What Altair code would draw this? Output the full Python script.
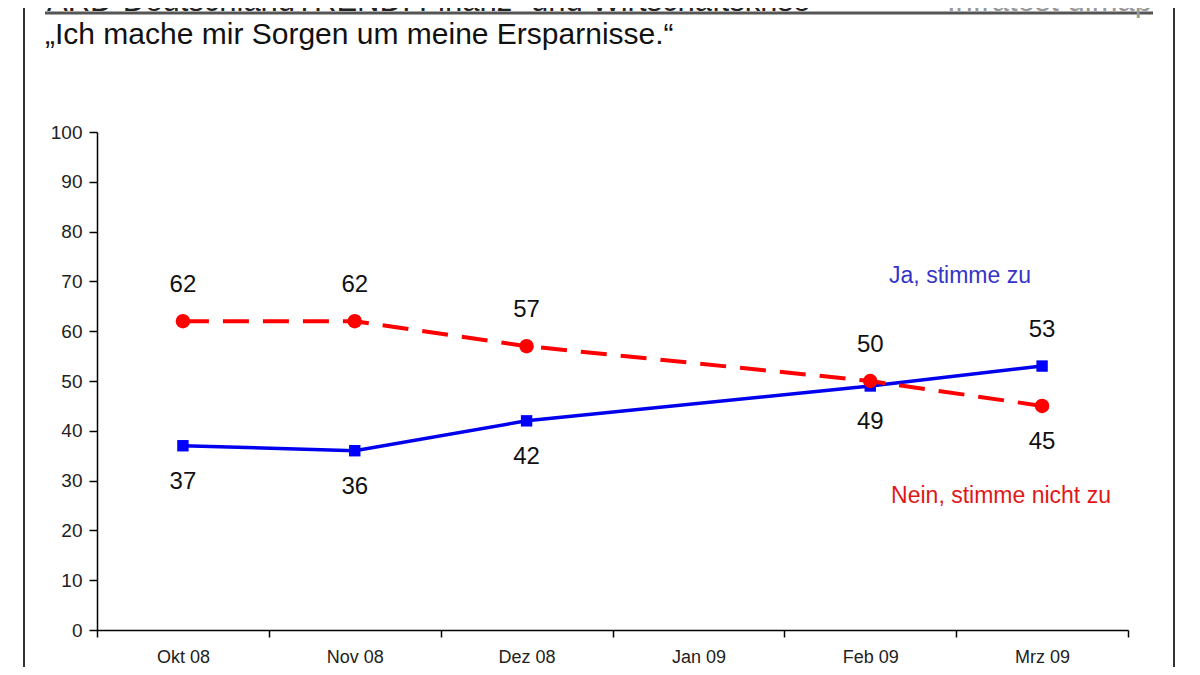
import altair as alt
import pandas as pd

# ---- data ----
months = ["Okt 08", "Nov 08", "Dez 08", "Jan 09", "Feb 09", "Mrz 09"]
survey_months = ["Okt 08", "Nov 08", "Dez 08", "Feb 09", "Mrz 09"]
ja_values = [37, 36, 42, 49, 53]
nein_values = [62, 62, 57, 50, 45]
series_names = ["Ja, stimme zu", "Nein, stimme nicht zu"]
y_ticks = [0, 10, 20, 30, 40, 50, 60, 70, 80, 90, 100]

title_text = "ARD-DeutschlandTREND: Finanz- und Wirtschaftskrise"
source_text = "Infratest dimap"
subtitle_text = "\u201eIch mache mir Sorgen um meine Ersparnisse.\u201c"

rows = []
for m, j, n in zip(survey_months, ja_values, nein_values):
    rows.append({"monat": m, "serie": series_names[0], "wert": j, "oben": bool(j >= n)})
    rows.append({"monat": m, "serie": series_names[1], "wert": n, "oben": bool(n > j)})
df = pd.DataFrame(rows)

FONT = "Liberation Sans"
BLUE = "#0000ee"
RED = "#ff0000"

x_enc = alt.X(
    "monat:N",
    scale=alt.Scale(type="band", domain=months, paddingInner=0, paddingOuter=0),
    axis=alt.Axis(
        title=None, labelAngle=0, tickBand="extent", grid=False,
        domainColor="black", domainWidth=1.5, tickColor="black", tickWidth=1.5,
        tickSize=7, labelFont=FONT, labelFontSize=18, labelColor="#222",
        labelPadding=11,
    ),
)
y_enc = alt.Y(
    "wert:Q",
    scale=alt.Scale(domain=[0, 100], nice=False, zero=True),
    axis=alt.Axis(
        title=None, values=y_ticks, grid=False,
        domainColor="black", domainWidth=1.5, tickColor="black", tickWidth=1.5,
        tickSize=8, labelFont=FONT, labelFontSize=19, labelColor="#222",
        labelPadding=7,
    ),
)

base = alt.Chart(df)
ja = base.transform_filter(alt.datum.serie == series_names[0])
nein = base.transform_filter(alt.datum.serie == series_names[1])

ja_line = ja.mark_line(color=BLUE, strokeWidth=3.5).encode(x=x_enc, y=y_enc)
ja_pts = ja.mark_point(shape="square", filled=True, size=130, color="#0000ff", opacity=1).encode(x=x_enc, y=y_enc)
nein_line = nein.mark_line(color=RED, strokeWidth=4, strokeDash=[26, 14]).encode(x=x_enc, y=y_enc)
nein_pts = nein.mark_circle(size=210, color=RED, opacity=1).encode(x=x_enc, y=y_enc)

lab_above = base.transform_filter(alt.datum.oben).mark_text(
    dy=-36, fontSize=24, font=FONT, color="#111", baseline="middle"
).encode(x=x_enc, y=y_enc, text="wert:Q")
lab_below = base.transform_filter(~alt.datum.oben).mark_text(
    dy=36, fontSize=24, font=FONT, color="#111", baseline="middle"
).encode(x=x_enc, y=y_enc, text="wert:Q")

series_df = pd.DataFrame({"name": series_names})
ja_label = alt.Chart(series_df).transform_filter(alt.datum.name == series_names[0]).mark_text(
    fontSize=23, font=FONT, color="#3535c8", baseline="middle", align="center"
).encode(x=alt.value(863), y=alt.Y(datum=71), text="name:N")
nein_label = alt.Chart(series_df).transform_filter(alt.datum.name == series_names[1]).mark_text(
    fontSize=23, font=FONT, color="#e01818", baseline="middle", align="center"
).encode(x=alt.value(904), y=alt.Y(datum=27), text="name:N")

# ---- page decorations ----
one = pd.DataFrame({"a": [0]})
subtitle = alt.Chart(pd.DataFrame({"t": [subtitle_text]})).mark_text(
    fontSize=30, font=FONT, color="#111", align="left", baseline="alphabetic"
).encode(x=alt.value(-52), y=alt.value(-88), text="t:N")
title = alt.Chart(pd.DataFrame({"t": [title_text]})).mark_text(
    fontSize=31, font=FONT, color="#222", align="left", baseline="alphabetic"
).encode(x=alt.value(-50), y=alt.value(-121), text="t:N")
source = alt.Chart(pd.DataFrame({"t": [source_text]})).mark_text(
    fontSize=31, font=FONT, color="#999", align="right", baseline="alphabetic"
).encode(x=alt.value(1055), y=alt.value(-121), text="t:N")
title_rule = alt.Chart(one).mark_rule(color="#555", strokeWidth=3).encode(
    x=alt.value(-52), x2=alt.value(1056), y=alt.value(-119)
)
frame_left = alt.Chart(one).mark_rule(color="#333", strokeWidth=2).encode(
    x=alt.value(-73), y=alt.value(-124), y2=alt.value(535)
)
frame_right = alt.Chart(one).mark_rule(color="#333", strokeWidth=2).encode(
    x=alt.value(1077), y=alt.value(-124), y2=alt.value(535)
)

chart = alt.layer(
    frame_left, frame_right, title_rule, title, source, subtitle,
    ja_line, ja_pts, nein_line, nein_pts, lab_above, lab_below,
    ja_label, nein_label,
).properties(
    width=1031, height=498,
    autosize=alt.AutoSizeParams(type="none"),
    padding={"left": 89, "top": 124, "right": 64, "bottom": 37},
    background="white",
).configure_view(stroke=None)

chart.save("out.html", embed_options={"renderer": "svg", "actions": False})
